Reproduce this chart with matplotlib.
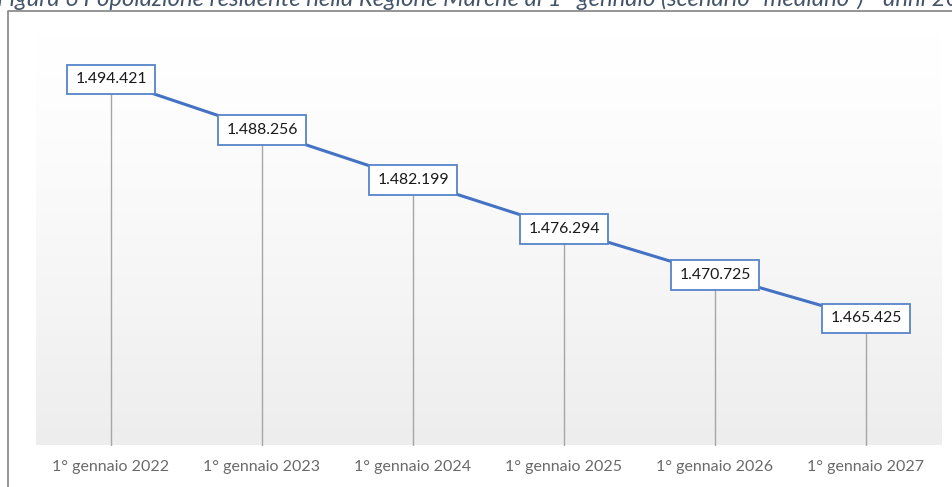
import numpy as np
import matplotlib
matplotlib.use("Agg")
import matplotlib.pyplot as plt
from matplotlib.lines import Line2D

# Data
categories = ["1° gennaio 2022", "1° gennaio 2023", "1° gennaio 2024",
              "1° gennaio 2025", "1° gennaio 2026", "1° gennaio 2027"]
population = [1494421, 1488256, 1482199, 1476294, 1470725, 1465425]
value_labels = ["1.494.421", "1.488.256", "1.482.199",
                "1.476.294", "1.470.725", "1.465.425"]
title = ("Figura 6 Popolazione residente nella Regione Marche al 1° gennaio "
         "(scenario “mediano”) - anni 2022-2027")

W, H = 953, 487
fig = plt.figure(figsize=(W / 100, H / 100), dpi=100)
fig.patch.set_facecolor("white")

ax = fig.add_axes([35.5 / W, 41.5 / H, 906 / W, 412 / H])
x = np.arange(len(categories))
ymin, ymax = 1450000, 1500000
ax.set_xlim(-0.5, len(categories) - 0.5)
ax.set_ylim(ymin, ymax)

# Vertical gradient background of the plot area: white at top, light grey below
grad = np.linspace(0, 1, 256).reshape(-1, 1)
top = np.array([1.0, 1.0, 1.0])
bottom = np.array([0.93, 0.93, 0.93])
img = top + (bottom - top) * grad[:, :, None] ** 1.3
ax.imshow(img, extent=[0, 1, 0, 1], transform=ax.transAxes,
          aspect="auto", zorder=0)

# Drop lines and series line
ax.vlines(x, ymin, population, color="#a6a6a6", lw=1.0, zorder=1)
ax.plot(x, population, color="#4472c4", lw=2.2, zorder=2,
        solid_capstyle="butt")

for xi, yi, lab in zip(x, population, value_labels):
    ax.text(xi, yi, lab, ha="center", va="center", fontsize=11.3,
            family="Lato", color="#1a1a1a", zorder=3,
            bbox=dict(boxstyle="square,pad=0.5", fc="white",
                      ec="#5585c8", lw=1.3))

ax.set_xticks(x)
ax.set_xticklabels(categories, fontsize=11.5, family="Lato",
                   color="#6a6a6a")
ax.tick_params(axis="x", length=0, pad=10.5)
ax.set_yticks([])
for s in ax.spines.values():
    s.set_visible(False)

# Outer frame (left and top edges)
fig.add_artist(Line2D([8.5 / W, 8.5 / W, 1.0], [0, 1 - 10.5 / H, 1 - 10.5 / H],
                      transform=fig.transFigure, color="#8c8c8c", lw=1.3))

# Caption above the frame
fig.text(-0.003, 1 - 6.5 / H, title, ha="left", va="baseline",
         fontsize=17.2, style="italic", family="Lato", color="#44546a")

fig.savefig("out.png", dpi=100)
